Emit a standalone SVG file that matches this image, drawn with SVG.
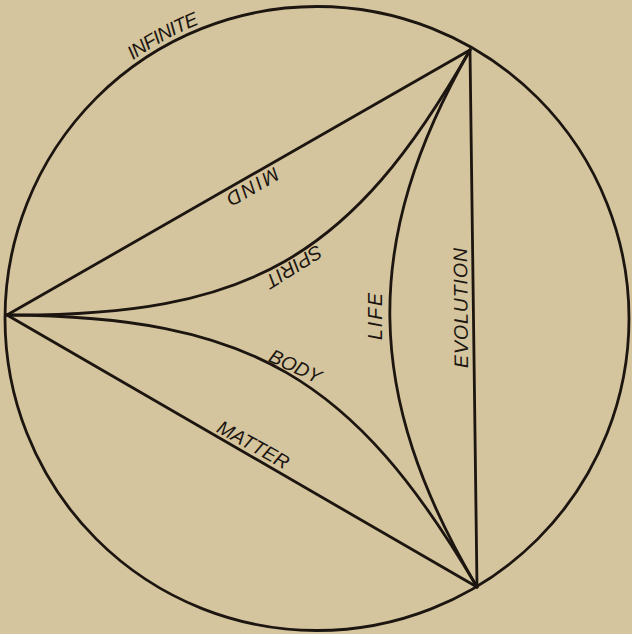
<svg xmlns="http://www.w3.org/2000/svg" width="632" height="634" viewBox="0 0 632 634">
<style>
.ln{fill:none;stroke:#1c1510;stroke-width:2.8;stroke-linecap:round;stroke-linejoin:round}
.lb{font-family:"Liberation Sans","DejaVu Sans",sans-serif;font-style:italic;font-size:19.5px;fill:#1c1510;text-anchor:middle}
</style>
<defs>
<path id="infArc" d="M 19.1,210.1 A 317 317 0 0 1 475.5,43.9"/>
</defs>
<rect width="632" height="634" fill="#d4c59e"/>
<g id="connectors">
<circle id="outer" class="ln" cx="317" cy="318.5" r="312" stroke-width="3"/>
<path id="edge-mind" class="ln" d="M7,315 L470,50"/>
<path id="edge-evolution" class="ln" d="M470,50 L477,587"/>
<path id="edge-matter" class="ln" d="M7,315 L477,587"/>
<path id="arc-spirit" class="ln" d="M7,315 C249.6,316.6 351.4,258.3 470,50"/>
<path id="arc-life" class="ln" d="M470,50 C361,241 363,394 477,587"/>
<path id="arc-body" class="ln" d="M7,315 C249.6,316.6 353,376.4 477,587"/>
</g>
<g id="infinite"><text class="lb" style="text-anchor:start"><textPath href="#infArc" startOffset="191" textLength="76" lengthAdjust="spacing">INFINITE</textPath></text></g>
<g id="mind"><text class="lb" transform="translate(253,187) rotate(150)" x="0" y="7" textLength="57" lengthAdjust="spacing">MIND</text></g>
<g id="spirit"><text class="lb" transform="translate(294,267) rotate(148)" x="0" y="7" textLength="63" lengthAdjust="spacing">SPIRIT</text></g>
<g id="life"><text class="lb" transform="translate(375,316.5) rotate(-90)" x="0" y="7" textLength="47" lengthAdjust="spacing">LIFE</text></g>
<g id="evolution"><text class="lb" transform="translate(460.5,308) rotate(-90.5)" x="0" y="7" textLength="120" lengthAdjust="spacing">EVOLUTION</text></g>
<g id="body"><text class="lb" transform="translate(295.5,366) rotate(25)" x="0" y="7" textLength="55" lengthAdjust="spacing">BODY</text></g>
<g id="matter"><text class="lb" transform="translate(253.5,444.5) rotate(29)" x="0" y="7" textLength="79" lengthAdjust="spacing">MATTER</text></g>
</svg>
